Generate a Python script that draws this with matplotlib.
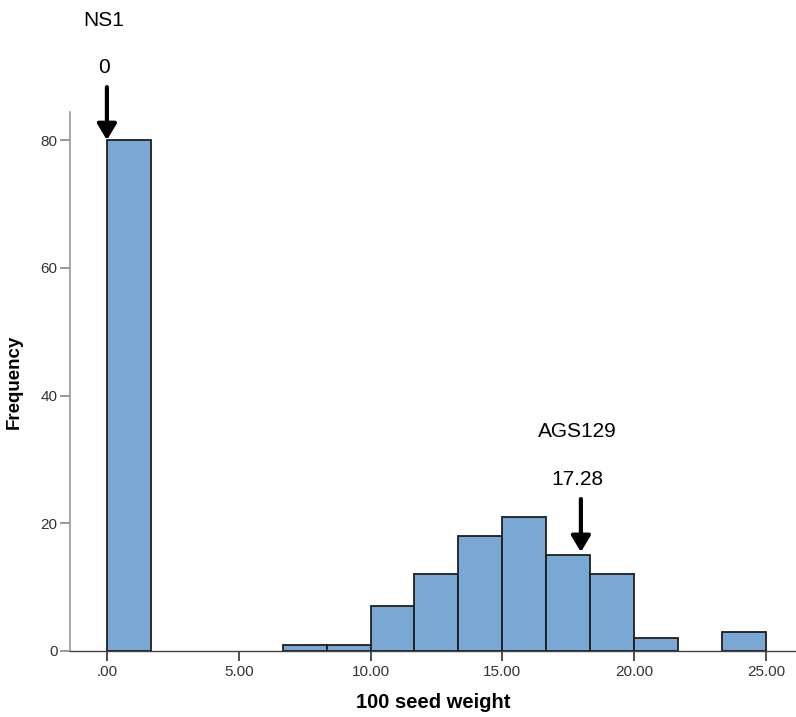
from matplotlib import pyplot as plt
import numpy as np

# ==================================================================================
# DATA
# ==================================================================================
bin_start  = 0.0
bin_stop   = 25.0
counts     = [80, 0, 0, 0, 1, 1, 7, 12, 18, 21, 15, 12, 2, 0, 3]
x_ticks    = [0, 5, 10, 15, 20, 25]
x_labels   = ['.00', '5.00', '10.00', '15.00', '20.00', '25.00']
y_ticks    = [0, 20, 40, 60, 80]
marks      = [('NS1', '0', 0.0, 80), ('AGS129', '17.28', 17.98, 15.5)]

# ==================================================================================
# PLOT
# ==================================================================================
plt.rcParams['font.family'] = ['Liberation Sans', 'DejaVu Sans']
fig = plt.figure(figsize=(7.96, 7.17), dpi=100)
ax = fig.add_axes([70/796, 66/717, 726/796, 539/717])

edges = np.linspace(bin_start, bin_stop, len(counts) + 1)
counts_arr = np.array(counts)
keep = counts_arr > 0
ax.bar(edges[:-1][keep], counts_arr[keep], width=np.diff(edges)[keep], align='edge',
       color='#79a8d5', edgecolor='#1f1f1f', linewidth=1.3, zorder=3)

ax.set_xlim(-1.40, 26.14)
ax.set_ylim(0, 84.4)

for s in ['top', 'right']:
    ax.spines[s].set_visible(False)
ax.spines['left'].set_color('#9a9a9a')
ax.spines['left'].set_linewidth(1.2)
ax.spines['bottom'].set_color('#444444')
ax.spines['bottom'].set_linewidth(1.0)

ax.set_xticks(x_ticks)
ax.set_xticklabels(x_labels)
ax.set_yticks(y_ticks)
ax.tick_params(axis='x', direction='out', length=7, width=1.2, color='#333333',
               labelsize=11, labelcolor='#333333', pad=3)
ax.tick_params(axis='y', direction='out', length=7, width=1.2, color='#888888',
               labelsize=11, labelcolor='#333333', pad=2)

ax.set_xlabel('100 seed weight', fontsize=14.5, fontweight='bold', labelpad=10)
ax.set_ylabel('Frequency', fontsize=13.5, fontweight='bold', va='center')
ax.yaxis.set_label_coords(-56/726, 0.5)

# Arrows with labels above
for name, val, x, y in marks:
    top = y + 8.3
    ax.annotate('', xy=(x, y), xytext=(x, top), annotation_clip=False,
                arrowprops=dict(arrowstyle='-|>,head_length=0.6,head_width=0.36',
                                color='black', lw=3, mutation_scale=16,
                                shrinkA=0, shrinkB=0))
    ax.text(x - 0.12, top + 3.1, val, ha='center', va='center', fontsize=15, clip_on=False)
    ax.text(x - 0.12, top + 10.5, name, ha='center', va='center', fontsize=15, clip_on=False)

fig.savefig('out.png', dpi=100)
